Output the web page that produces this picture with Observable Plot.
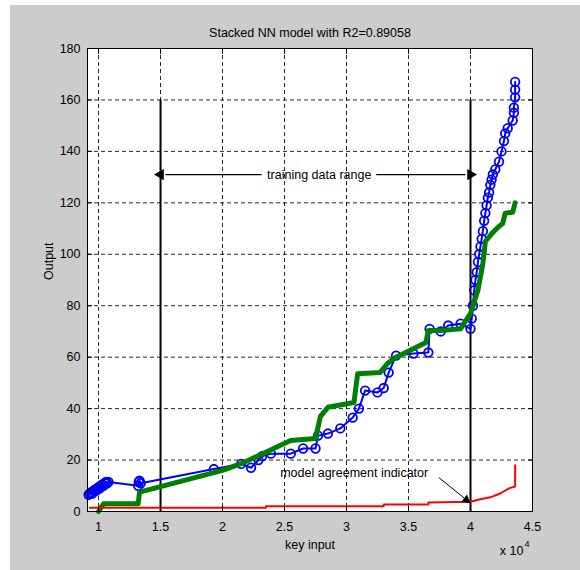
<!DOCTYPE html>
<html>
<head>
<meta charset="utf-8">
<script src="https://cdn.jsdelivr.net/npm/d3@7"></script>
<script src="https://cdn.jsdelivr.net/npm/@observablehq/plot@0.6"></script>
<style>
  html, body { margin: 0; padding: 0; background: #ffffff; }
  #bg { position: absolute; left: 10px; top: 5px; width: 570px; height: 565px; background: #cccccc; }
  #chart { position: absolute; left: 0; top: 0; }
</style>
</head>
<body>
<div id="bg"></div>
<div id="chart"></div>
<script>
// ---- data ----
const titleText = "Stacked NN model with R2=0.89058";
const xLabel = "key input";
const yLabel = "Output";

const blueX = [9200, 9300, 9400, 9500, 9600, 9700, 9800, 9900, 10000, 10100, 10200, 10300, 10400, 10500, 10600, 10700, 10800,
  13200, 13250, 13300, 13400, 19300, 21500, 22300, 22900, 23200, 23900, 25500, 26500, 27500, 27700, 28500, 29500, 30500, 31000,
  31500, 32500, 33000, 33400, 34000, 35400, 36600, 36700, 37600, 38200, 39200, 40000, 40100, 40200, 40300, 40400, 40500, 40600,
  40700, 40800, 40900, 41000, 41100, 41200, 41300, 41400, 41500, 41600, 41700, 41800, 42000, 42300, 42500, 42700, 42800, 43000,
  43400, 43500, 43500, 43600, 43600, 43600];
const blueY = [6.5, 7, 7.5, 7, 8, 8.5, 8, 9, 9.5, 9, 10, 10.5, 10, 11, 11.5, 11, 11.5,
  10, 11.5, 12, 11, 16.5, 18.5, 17, 20, 21.5, 22.5, 22.5, 24.5, 24.5, 29.5, 30.3, 32.3, 36.5, 40,
  47, 46.3, 48, 54, 60.6, 61.4, 61.8, 71, 70, 72.3, 73, 71, 75, 80, 86, 90, 93, 97,
  100, 103, 106, 109, 113, 116, 119, 122, 124, 127, 129, 131, 133, 136, 140, 144, 147, 149,
  152, 155, 157, 161, 164, 167];

const greenX = [10000, 10400, 13200, 13300, 15000, 20000, 21500, 25500, 27500, 27900, 28500, 30600, 30900, 32700, 33300, 33800, 36400, 36600, 37600, 39200, 40000, 40600, 41000, 41200, 41800, 42200, 42600, 42800, 43400, 43600];
const greenY = [0, 3, 3, 7.5, 9.7, 16, 18.6, 27.6, 28.4, 37, 40.5, 42.4, 53.6, 54, 57.5, 59.5, 65.7, 70.4, 70.4, 71, 77, 86, 96.4, 105, 108.5, 110.4, 112, 116, 116.3, 120];

const redX = [9300, 23500, 23500, 33000, 33000, 36600, 36600, 40000, 40700, 41600, 42400, 43100, 43600, 43600];
const redY = [1.5, 1.5, 2.0, 2.0, 2.7, 2.7, 3.5, 3.8, 4.7, 5.5, 7, 9, 9.7, 18];

const xTicks = [10000, 15000, 20000, 25000, 30000, 35000, 40000, 45000];
const yTicks = [0, 20, 40, 60, 80, 100, 120, 140, 160, 180];
const xGrid = [10000, 15000, 20000, 25000, 30000, 35000, 40000];
const yGrid = [20, 40, 60, 80, 100, 120, 140, 160];

// training range annotation
const rangeX = [15000, 40000];
const rangeTop = 160;
const rangeArrowY = 131;
const rangeText = "training data range";
const rangeTextX = 27800;
const rangeSegments = [ {x1: 23150, x2: 15400}, {x1: 32400, x2: 39600} ];
const rangeHeads = [ {x: 15000, dir: -90}, {x: 40000, dir: 90} ];

// model agreement annotation
const agreeText = "model agreement indicator";
const agreeTextX = 24650;
const agreeTextY = 14.8;
const agreeArrow = [{x1: 37450, y1: 13.2, x2: 39500, y2: 5.2}];
const agreeHead = [{x: 39650, y: 4.5, dir: 129}];

// ---- build tables ----
const blue = blueX.map((x, i) => ({x, y: blueY[i]}));
const green = greenX.map((x, i) => ({x, y: greenY[i]}));
const red = redX.map((x, i) => ({x, y: redY[i]}));

const font = "'Liberation Sans', Arial, Helvetica, sans-serif";

const chart = Plot.plot({
  width: 580,
  height: 570,
  marginLeft: 87,
  marginRight: 48,
  marginTop: 48,
  marginBottom: 59,
  style: {background: "transparent", fontFamily: font, fontSize: "12px", color: "black", overflow: "visible"},
  x: {domain: [9110, 45000], axis: null},
  y: {domain: [0, 180], axis: null},
  marks: [
    Plot.frame({fill: "white", stroke: "none"}),
    Plot.gridX(xGrid, {stroke: "black", strokeOpacity: 0.85, strokeDasharray: "4,3", strokeWidth: 1}),
    Plot.gridY(yGrid, {stroke: "black", strokeOpacity: 0.85, strokeDasharray: "4,3", strokeWidth: 1}),
    Plot.ruleX(rangeX, {y1: 0, y2: rangeTop, stroke: "black", strokeWidth: 2}),
    Plot.link(rangeSegments, {x1: "x1", x2: "x2", y1: rangeArrowY, y2: rangeArrowY, stroke: "black", strokeWidth: 1.2}),
    Plot.dot(rangeHeads, {x: "x", y: rangeArrowY, symbol: "triangle", rotate: "dir", r: 4.2, fill: "black", stroke: "none"}),
    Plot.text([rangeText], {x: rangeTextX, y: rangeArrowY, fontSize: 12.5, fill: "black"}),
    Plot.line(blue, {x: "x", y: "y", stroke: "blue", strokeWidth: 2}),
    Plot.dot(blue, {x: "x", y: "y", r: 4.3, stroke: "blue", strokeWidth: 1.8, fill: "none"}),
    Plot.line(green, {x: "x", y: "y", stroke: "#008000", strokeWidth: 5, strokeLinejoin: "round"}),
    Plot.line(red, {x: "x", y: "y", stroke: "red", strokeWidth: 2}),
    Plot.text([agreeText], {x: agreeTextX, y: agreeTextY, textAnchor: "start", fontSize: 12.5, fill: "black"}),
    Plot.link(agreeArrow, {x1: "x1", y1: "y1", x2: "x2", y2: "y2", stroke: "black", strokeWidth: 1}),
    Plot.dot(agreeHead, {x: "x", y: "y", symbol: "triangle", rotate: "dir", r: 3.5, fill: "black", stroke: "none"}),
    Plot.frame({stroke: "black", strokeWidth: 1}),
    // axes with inward ticks
    Plot.axisX(xTicks, {anchor: "bottom", tickSize: -5, tickPadding: 16, tickFormat: d => String(d / 1e4), fontSize: 12.5}),
    Plot.axisX(xTicks, {anchor: "top", tickSize: -5, tickFormat: () => ""}),
    Plot.axisY(yTicks, {anchor: "left", tickSize: -5, tickPadding: 12, tickFormat: d => String(d), fontSize: 12.5}),
    Plot.axisY(yTicks, {anchor: "right", tickSize: -5, tickFormat: () => ""}),
    // titles
    Plot.text([titleText], {frameAnchor: "top", dy: -20, fontSize: 12.5}),
    Plot.text([xLabel], {frameAnchor: "bottom", dy: 37, fontSize: 12.5}),
    Plot.text([yLabel], {frameAnchor: "left", dx: -39, rotate: -90, fontSize: 12.5}),
    Plot.text(["x 10"], {frameAnchor: "bottom-right", dy: 43, dx: -9, textAnchor: "end", fontSize: 12.5}),
    Plot.text(["4"], {frameAnchor: "bottom-right", dy: 35, dx: -8, textAnchor: "start", fontSize: 9})
  ]
});
document.getElementById("chart").appendChild(chart);
</script>
</body>
</html>
